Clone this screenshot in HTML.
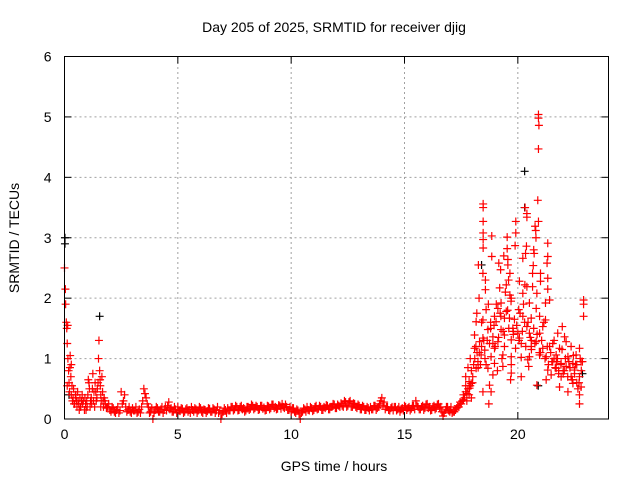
<!DOCTYPE html>
<html><head><meta charset="utf-8"><style>
html,body{margin:0;padding:0;background:#fff;}
svg{display:block;font-family:"Liberation Sans",sans-serif;}
</style></head><body>
<svg id="chart" width="640" height="480" viewBox="0 0 640 480" xmlns="http://www.w3.org/2000/svg">
<rect width="640" height="480" fill="#fff"/>
<text x="334" y="32" font-size="14" text-anchor="middle">Day 205 of 2025, SRMTID for receiver djig</text>
<text x="334" y="471" font-size="14" text-anchor="middle">GPS time / hours</text>
<text x="19" y="238" font-size="14" text-anchor="middle" transform="rotate(-90 19 238)">SRMTID / TECUs</text>
<g id="grid"></g><g id="ticks"></g><g id="marks"></g>
<rect x="64.5" y="56.5" width="544" height="362.5" fill="none" stroke="#000" stroke-width="1"/>
</svg>
<script>
const xTicks=[0,5,10,15,20];
const yTicks=[0,1,2,3,4,5,6];
// early period (hours, TECU)
const earlyT=[0.0,0.05,0.08,0.1,0.12,0.15,0.18,0.2,0.22,0.25,0.28,0.3,0.35,0.4,0.45,0.5,0.55,0.6,0.7,0.8,0.9,1.0,1.05,1.1,1.15,1.2,1.3,1.35,1.4,1.45,1.5,1.52,1.55,1.58,1.6,1.65,1.7,1.8,1.9,2.0,2.1,2.2,2.3,2.4,0.12,0.3,0.5,0.65,0.75,0.95,1.25,1.6,1.75,
0.04,0.14,0.24,0.33,0.38,0.42,0.48,0.53,0.58,0.63,0.68,0.72,0.78,0.83,0.88,0.93,0.98,1.03,1.08,1.13,1.18,1.23,1.28,1.33,1.38,1.43,1.48,1.57,1.62,1.68,1.72,1.78,1.85,1.95,2.05,2.15,2.25,2.35,2.45];
const earlyV=[2.5,1.9,1.6,1.5,1.25,1.0,0.8,0.6,0.45,1.05,0.7,0.4,0.3,0.5,0.25,0.35,0.2,0.3,0.2,0.25,0.35,0.2,0.65,0.5,0.3,0.25,0.45,0.6,0.3,0.5,1.0,1.3,0.8,0.55,0.4,0.7,0.3,0.25,0.2,0.15,0.2,0.12,0.15,0.1,0.55,0.9,0.4,0.15,0.3,0.15,0.75,0.2,0.35,
2.15,1.55,0.85,0.55,0.35,0.25,0.4,0.3,0.45,0.25,0.35,0.2,0.4,0.3,0.15,0.25,0.3,0.4,0.6,0.2,0.35,0.5,0.3,0.2,0.45,0.35,0.6,0.65,0.3,0.45,0.2,0.3,0.18,0.25,0.12,0.18,0.1,0.2,0.14];
// quiet period: sampled every 0.1 h starting 2.5 h
const quietStart=2.5, quietStep=0.1;
const quietV=[0.45,0.3,0.2,0.15,0.12,0.18,0.14,0.1,0.16,0.2,
0.5,0.35,0.2,0.12,0.0,0.15,0.18,0.12,0.2,0.15,
0.14,0.28,0.18,0.12,0.16,0.2,0.13,0.17,0.12,0.18,
0.15,0.2,0.12,0.16,0.14,0.18,0.1,0.15,0.13,0.17,
0.12,0.16,0.14,0.1,0.0,0.12,0.15,0.18,0.14,0.2,
0.16,0.2,0.15,0.22,0.18,0.14,0.2,0.17,0.22,0.18,
0.2,0.16,0.22,0.19,0.15,0.21,0.18,0.24,0.2,0.17,
0.22,0.25,0.18,0.2,0.15,0.12,0.18,0.1,0.14,0.0,
0.12,0.16,0.2,0.14,0.18,0.15,0.22,0.17,0.2,0.15,
0.18,0.22,0.16,0.2,0.24,0.18,0.22,0.26,0.2,0.28,
0.22,0.3,0.2,0.25,0.18,0.22,0.16,0.2,0.15,0.18,
0.2,0.16,0.22,0.18,0.25,0.35,0.28,0.2,0.15,0.18,
0.14,0.2,0.16,0.12,0.18,0.22,0.15,0.2,0.17,0.22,
0.3,0.2,0.16,0.22,0.18,0.25,0.2,0.15,0.22,0.18,
0.25,0.2,0.05,0.15,0.2,0.12];
// quiet period, second pass offset by 0.05 h
const quiet2Start=2.55;
const quiet2V=[0.25,0.4,0.12,0.2,0.1,0.14,0.2,0.12,0.1,0.3,
0.42,0.25,0.1,0.18,0.1,0.2,0.12,0.16,0.1,0.2,
0.22,0.16,0.12,0.2,0.1,0.14,0.18,0.1,0.16,0.12,
0.1,0.15,0.18,0.1,0.2,0.12,0.16,0.1,0.18,0.12,
0.18,0.1,0.2,0.14,0.08,0.18,0.1,0.14,0.2,0.14,
0.22,0.14,0.2,0.16,0.12,0.2,0.15,0.24,0.16,0.22,
0.15,0.22,0.17,0.14,0.22,0.16,0.24,0.18,0.16,0.23,
0.17,0.2,0.24,0.15,0.2,0.18,0.12,0.16,0.08,0.1,
0.18,0.12,0.15,0.2,0.13,0.2,0.16,0.22,0.15,0.2,
0.23,0.16,0.2,0.25,0.18,0.24,0.2,0.22,0.3,0.2,
0.28,0.2,0.26,0.2,0.24,0.16,0.22,0.15,0.2,0.14,
0.16,0.22,0.15,0.2,0.3,0.22,0.16,0.2,0.14,0.2,
0.2,0.14,0.2,0.16,0.14,0.2,0.18,0.14,0.22,0.16,
0.22,0.16,0.2,0.15,0.24,0.18,0.14,0.2,0.16,0.24,
0.18,0.12,0.1,0.2,0.14];
// active period
const activeT=[17.0,17.1,17.2,17.3,17.4,17.5,17.55,17.6,17.65,17.7,17.75,17.8,17.85,17.9,17.95,18.0,17.7,17.8,17.9,
20.91,20.91,20.93,20.91,20.88,18.47,18.47,20.32,20.4,18.47,19.91,20.4,20.91,20.76,20.79,18.47,19.91,18.85,19.53,20.8,18.47,19.88,20.38,18.47,21.32,19.53,20.7,20.34,20.72,18.85,19.38,21.32,20.22,19.56,18.26,19.56,20.68,21.29,19.16,18.46,19.24,19.65,20.65,21.0,18.57,19.59,20.07,20.31,21.0,21.32,18.57,19.49,20.4,20.65,19.65,19.2,20.22,20.84,21.32,18.29,19.71,21.4,22.9,22.9,19.26,18.6,19.12,20.51,21.22,18.19,18.97,19.22,19.49,20.04,20.81,18.16,18.46,19.41,19.63,20.22,20.59,20.96,21.22,22.9,19.04,18.68,19.26,19.78,20.4,21.1,21.96,18.09,18.46,18.9,19.41,20.0,20.07,20.51,20.96,21.76,22.06,18.31,18.75,19.12,19.71,20.15,20.81,21.54,22.13,18.09,18.54,18.97,19.41,19.9,20.59,21.1,21.4,21.84,22.35,22.72,18.38,18.82,19.34,19.71,20.15,20.51,20.96,21.25,21.69,22.21,22.57,18.24,18.97,19.71,20.44,21.54,21.91,22.43,22.79,18.16,18.68,19.34,20.48,21.32,21.69,22.13,22.5,18.01,18.9,19.71,20.15,21.47,21.91,22.35,22.72,17.94,18.75,19.68,20.84,21.25,21.84,22.43,22.79,17.87,18.46,18.82,22.21,22.72,18.72,22.72,
18.2,18.35,18.5,18.8,19.0,19.3,19.8,20.3,20.6,21.0,21.6,21.8,22.0,22.3,22.6,18.1,18.4,18.6,19.1,21.7,22.0,22.4,22.55,22.65,
17.05,17.15,17.25,17.35,17.45,17.6,17.7,17.75,17.85,17.95,18.05,18.15,18.25,18.3,18.4,18.55,18.65,18.7,18.8,18.9,18.95,19.05,19.15,19.25,19.35,19.45,19.55,19.6,19.7,19.8,19.85,19.95,20.05,20.1,20.2,20.25,20.35,20.45,20.55,20.6,20.7,20.75,20.85,20.95,21.05,21.15,21.2,21.3,21.35,21.45,21.5,21.6,21.65,21.75,21.8,21.9,21.95,22.05,22.1,22.2,22.25,22.3,22.4,22.45,22.5,22.6,22.7,22.75,22.8,22.85];
const activeV=[0.15,0.1,0.12,0.18,0.2,0.25,0.3,0.4,0.35,0.45,0.3,0.5,0.4,0.55,0.35,0.6,0.7,0.85,1.0,
5.04,4.98,4.86,4.47,3.62,3.56,3.5,3.5,3.4,3.27,3.27,3.34,3.27,3.19,3.12,3.08,3.08,3.03,3.01,3.0,2.97,2.87,2.86,2.83,2.91,2.82,2.8,2.74,2.74,2.69,2.7,2.69,2.66,2.64,2.55,2.55,2.54,2.58,2.58,2.41,2.47,2.41,2.41,2.41,2.3,2.3,2.28,2.22,2.28,2.33,2.14,2.22,2.19,2.19,2.05,2.17,2.08,2.08,2.15,2.0,2.0,1.97,1.97,1.9,1.92,1.81,1.83,1.92,1.92,1.75,1.7,1.75,1.78,1.81,1.83,1.61,1.64,1.67,1.67,1.7,1.67,1.7,1.64,1.7,1.61,1.48,1.48,1.5,1.53,1.53,1.53,1.39,1.34,1.36,1.39,1.42,1.34,1.42,1.42,1.42,1.36,1.28,1.25,1.28,1.31,1.25,1.28,1.25,1.28,1.17,1.14,1.17,1.2,1.17,1.2,1.17,1.2,1.17,1.2,1.17,1.06,1.03,1.06,1.03,1.02,1.03,1.06,1.03,1.06,1.03,1.06,0.95,0.92,0.9,0.98,0.95,0.92,0.92,0.95,0.84,0.84,0.87,0.87,0.81,0.84,0.87,0.81,0.7,0.73,0.76,0.7,0.73,0.7,0.7,0.7,0.59,0.56,0.65,0.56,0.65,0.53,0.59,0.53,0.51,0.45,0.45,0.45,0.4,0.25,0.25,
1.1,0.9,1.3,1.5,1.2,1.0,1.45,1.6,1.3,1.1,1.0,0.8,0.75,0.85,0.6,1.0,1.2,0.9,0.8,0.95,0.8,0.65,0.9,0.5,
0.2,0.12,0.15,0.22,0.28,0.32,0.55,0.42,0.62,0.8,0.9,1.2,0.85,1.1,1.6,1.0,1.3,1.9,1.6,1.25,1.55,1.9,1.35,1.7,1.45,2.1,1.8,1.5,1.95,1.4,1.65,1.55,1.3,1.75,1.45,1.9,1.2,1.6,1.35,1.15,1.5,1.25,1.4,1.1,1.3,1.6,1.0,1.2,0.9,1.1,0.95,1.3,0.85,1.0,0.75,0.9,1.15,0.8,1.0,0.7,0.95,0.85,0.65,1.05,0.75,0.9,0.6,1.0,0.8,0.95];
// second (black) series, mostly hidden
const blackT=[0.02,0.02,1.55,20.3,20.3,20.9,18.4,22.85,0.2];
const blackV=[3.0,2.9,1.7,4.1,3.5,0.55,2.55,0.75,0.4];

const X0=64.5,X1=608.5,Y0=419,Y1=56.5,XMAX=24,YMAX=6;
const xs=h=>X0+(h/XMAX)*(X1-X0);
const ys=v=>Y0-(v/YMAX)*(Y0-Y1);
const NS="http://www.w3.org/2000/svg";
function mk(tag,attrs,parent){const e=document.createElementNS(NS,tag);for(const k in attrs)e.setAttribute(k,attrs[k]);parent.appendChild(e);return e;}
const grid=document.getElementById('grid'),ticks=document.getElementById('ticks'),marks=document.getElementById('marks');
xTicks.forEach(t=>{const x=xs(t);
 if(t>0){const g=mk('line',{x1:x,x2:x,y1:Y0,y2:Y1,stroke:'#a0a0a0','stroke-dasharray':'2,3'},grid);
 
 }
 mk('line',{x1:x,x2:x,y1:Y0,y2:Y0-7,stroke:'#000'},ticks);
 mk('line',{x1:x,x2:x,y1:Y1,y2:Y1+7,stroke:'#000'},ticks);
 const l=mk('text',{x:x,y:Y0+20,'font-size':14,'text-anchor':'middle'},ticks);l.textContent=t;
 
 
});
yTicks.forEach(t=>{const y=ys(t);
 if(t>0&&t<6){const g=mk('line',{x1:X0,x2:X1,y1:y,y2:y,stroke:'#a0a0a0','stroke-dasharray':'2,3'},grid);
 
 }
 mk('line',{x1:X0,x2:X0+7,y1:y,y2:y,stroke:'#000'},ticks);
 mk('line',{x1:X1,x2:X1-7,y1:y,y2:y,stroke:'#000'},ticks);
 const l=mk('text',{x:X0-13,y:y+5,'font-size':14,'text-anchor':'end'},ticks);l.textContent=t;
 
 
});
function plus(h,v,color,name){const x=xs(h),y=ys(v);
 const p=mk('path',{d:`M${x-4},${y}H${x+4}M${x},${y-4}V${y+4}`,stroke:color,'stroke-width':1.2,fill:'none'},marks);
 
 }
blackT.forEach((t,i)=>plus(t,blackV[i],'#000','black-point'));
earlyT.forEach((t,i)=>plus(t,earlyV[i],'#f00','srmtid-point'));
quietV.forEach((v,i)=>plus(quietStart+i*quietStep,v,'#f00','srmtid-point'));
quiet2V.forEach((v,i)=>plus(quiet2Start+i*quietStep,v,'#f00','srmtid-point'));
activeT.forEach((t,i)=>plus(t,activeV[i],'#f00','srmtid-point'));
</script>
</body></html>
